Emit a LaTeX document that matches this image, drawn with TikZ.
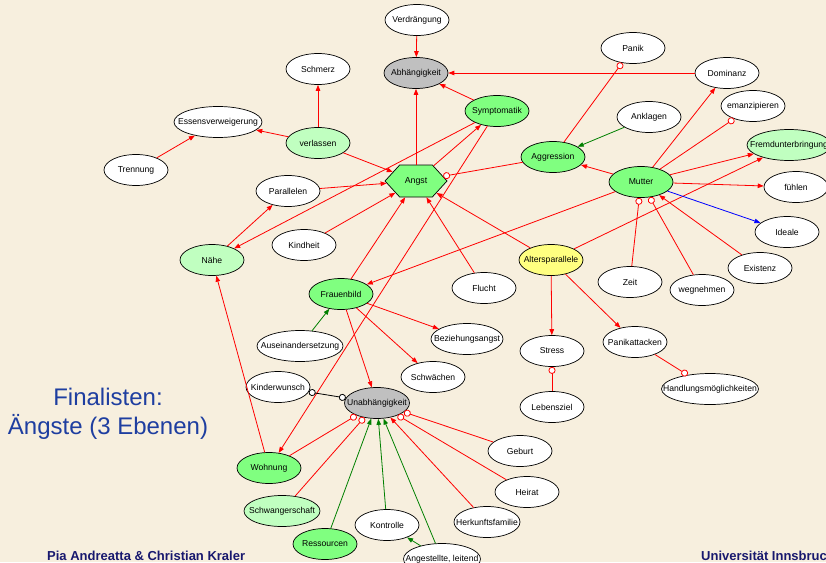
\documentclass[tikz,border=0pt]{standalone}
\usepackage{fontspec}
\setmainfont{Liberation Sans}
\usetikzlibrary{shapes.geometric,shapes.symbols,arrows.meta}

\definecolor{bgbeige}{RGB}{247,239,222}
\definecolor{ndgreen}{RGB}{128,255,128}
\definecolor{ndlight}{RGB}{192,255,192}
\definecolor{ndgray}{RGB}{192,192,192}
\definecolor{ndyellow}{RGB}{255,255,128}
\definecolor{lnred}{RGB}{255,0,0}
\definecolor{lngreen}{RGB}{0,128,0}
\definecolor{lnblue}{RGB}{0,0,255}
\definecolor{titleblue}{RGB}{30,62,160}
\definecolor{footblue}{RGB}{24,24,110}

% label centred in a zero-width box, so the ellipse keeps its given size
\newcommand\zw[1]{\makebox[0pt][c]{#1}}

\begin{document}
\begin{tikzpicture}[x=1pt,y=-1pt,
  concept/.style={ellipse, draw=black, line width=0.7pt, fill=white, inner sep=0pt,
     minimum width=64pt, minimum height=31pt, font=\fontsize{8.6}{10}\selectfont},
  core/.style={concept, fill=ndgreen},
  soft/.style={concept, fill=ndlight},
  hub/.style={concept, fill=ndgray},
  yel/.style={concept, fill=ndyellow},
  wd/.style={minimum width=#1},
  rel/.style={draw=lnred, line width=0.8pt},
  cause/.style={rel, -{Triangle[length=6pt,width=4.5pt]}},
  block/.style={rel, -{Circle[length=7pt,fill=white]}},
  gcause/.style={cause, draw=lngreen},
  bcause/.style={cause, draw=lnblue},
  mutual/.style={draw=black, line width=0.8pt,
     {Circle[length=7pt,fill=white]}-{Circle[length=7pt,fill=white]}},
]
\clip (0,0) rectangle (826,562);
\fill[bgbeige] (0,0) rectangle (826,562);

% --- concepts ---
\node[concept] (verdr) at (417,20) {\zw{Verdrängung}};
\node[hub] (abh) at (416,73) {\zw{Abhängigkeit}};
\node[concept] (schmerz) at (318,69) {\zw{Schmerz}};
\node[core] (sympt) at (497,111) {\zw{Symptomatik}};
\node[soft] (verl) at (318,143) {\zw{verlassen}};
\node[signal, signal to=east and west, signal pointer angle=95, draw=black,
      line width=0.7pt, fill=ndgreen, inner sep=0pt, minimum width=62pt,
      minimum height=32pt, font=\fontsize{8.8}{10}\selectfont] (angst) at (416,181) {\zw{Angst}};
\node[concept, wd=88pt] (essen) at (218,122) {\zw{Essensverweigerung}};
\node[concept] (trenn) at (136,170) {\zw{Trennung}};
\node[concept] (panik) at (633,48) {\zw{Panik}};
\node[concept] (domin) at (727,73) {\zw{Dominanz}};
\node[concept] (ankl) at (649,117) {\zw{Anklagen}};
\node[concept] (emanz) at (753,106) {\zw{emanzipieren}};
\node[soft, wd=84pt] (fremd) at (789,145) {\zw{Fremdunterbringung}};
\node[core] (aggr) at (553,157) {\zw{Aggression}};
\node[core] (mutter) at (641,182) {\zw{Mutter}};
\node[concept] (fuehl) at (796,187) {\zw{fühlen}};
\node[concept] (ideale) at (787,232) {\zw{Ideale}};
\node[concept] (exist) at (760,268) {\zw{Existenz}};
\node[concept] (wegn) at (702,290) {\zw{wegnehmen}};
\node[concept] (zeit) at (630,282) {\zw{Zeit}};
\node[yel] (alters) at (551,260) {\zw{Altersparallele}};
\node[concept] (panikatt) at (635,342) {\zw{Panikattacken}};
\node[concept, wd=97pt] (handl) at (710,389) {\zw{Handlungsmöglichkeiten}};
\node[concept] (stress) at (552,351) {\zw{Stress}};
\node[concept] (lebens) at (552,407) {\zw{Lebensziel}};
\node[concept] (parall) at (288,191) {\zw{Parallelen}};
\node[concept] (kindh) at (304,245) {\zw{Kindheit}};
\node[soft] (naehe) at (212,260) {\zw{Nähe}};
\node[core] (frauen) at (341,294) {\zw{Frauenbild}};
\node[concept] (flucht) at (484,288) {\zw{Flucht}};
\node[concept, wd=72pt] (bezieh) at (467,339) {\zw{Beziehungsangst}};
\node[concept] (schwae) at (433,377) {\zw{Schwächen}};
\node[concept, wd=86pt] (ausein) at (300,346) {\zw{Auseinandersetzung}};
\node[concept] (kinderw) at (278,387) {\zw{Kinderwunsch}};
\node[hub, wd=65pt] (unab) at (377,403) {\zw{Unabhängigkeit}};
\node[core] (wohn) at (269,468) {\zw{Wohnung}};
\node[soft, wd=76pt] (schwang) at (282,511) {\zw{Schwangerschaft}};
\node[core] (ressour) at (325,544) {\zw{Ressourcen}};
\node[concept] (kontr) at (387,525) {\zw{Kontrolle}};
\node[concept, wd=77pt] (angest) at (442,559) {\zw{Angestellte, leitend}};
\node[concept] (geburt) at (520,451) {\zw{Geburt}};
\node[concept] (heirat) at (527,492) {\zw{Heirat}};
\node[concept, wd=66pt] (herk) at (487,522) {\zw{Herkunftsfamilie}};

% --- relations ---
\draw[cause] (verdr) -- (abh);
\draw[cause] (angst) -- (abh);
\draw[cause] (sympt) -- (abh);
\draw[cause] (domin) -- (abh);
\draw[block] (aggr) -- (panik);
\draw[cause] (verl) -- (schmerz);
\draw[cause] (verl) -- (essen);
\draw[cause] (verl) -- (angst);
\draw[cause] (trenn) -- (essen);
\draw[cause] (angst) -- (sympt);
\draw[cause] (sympt) -- (naehe);
\draw[cause] (sympt) -- (wohn);
\draw[block] (aggr) -- (angst);
\draw[cause] (mutter) -- (aggr);
\draw[gcause] (ankl) -- (aggr);
\draw[cause] (mutter) -- (domin);
\draw[block] (mutter) -- (emanz);
\draw[cause] (mutter) -- (fremd);
\draw[cause] (alters) -- (fremd);
\draw[cause] (mutter) -- (fuehl);
\draw[bcause] (mutter) -- (ideale);
\draw[cause] (exist) -- (mutter);
\draw[block] (wegn) -- (mutter);
\draw[block] (zeit) -- (mutter);
\draw[cause] (mutter) -- (frauen);
\draw[cause] (alters) -- (angst);
\draw[cause] (flucht) -- (angst);
\draw[cause] (frauen) -- (angst);
\draw[cause] (kindh) -- (angst);
\draw[cause] (parall) -- (angst);
\draw[cause] (naehe) -- (parall);
\draw[cause] (wohn) -- (naehe);
\draw[gcause] (ausein) -- (frauen);
\draw[cause] (frauen) -- (bezieh);
\draw[cause] (frauen) -- (schwae);
\draw[cause] (frauen) -- (unab);
\draw[mutual] (kinderw) -- (unab);
\draw[block] (wohn) -- (unab);
\draw[block] (schwang) -- (unab);
\draw[gcause] (ressour) -- (unab);
\draw[gcause] (kontr) -- (unab);
\draw[gcause] (angest) -- (unab);
\draw[gcause] (angest) -- (kontr);
\draw[cause] (herk) -- (unab);
\draw[block] (heirat) -- (unab);
\draw[block] (geburt) -- (unab);
\draw[cause] (alters) -- (stress);
\draw[cause] (alters) -- (panikatt);
\draw[block] (lebens) -- (stress);
\draw[block] (panikatt) -- (handl);

% --- title and footer ---
\node[anchor=base, text=titleblue, font=\fontsize{24}{29}\selectfont, inner sep=0pt]
  (title1) at (108,405) {Finalisten:};
\node[anchor=base, text=titleblue, font=\fontsize{24}{29}\selectfont, inner sep=0pt]
  (title2) at (108,434) {Ängste (3 Ebenen)};
\node[anchor=base west, text=footblue, font=\bfseries\fontsize{13}{15}\selectfont, inner sep=0pt]
  (authors) at (47,560) {Pia Andreatta \& Christian Kraler};
\node[anchor=base west, text=footblue, font=\bfseries\fontsize{13}{15}\selectfont, inner sep=0pt]
  (uni) at (701,560) {Universität Innsbruck};
\end{tikzpicture}
\end{document}
